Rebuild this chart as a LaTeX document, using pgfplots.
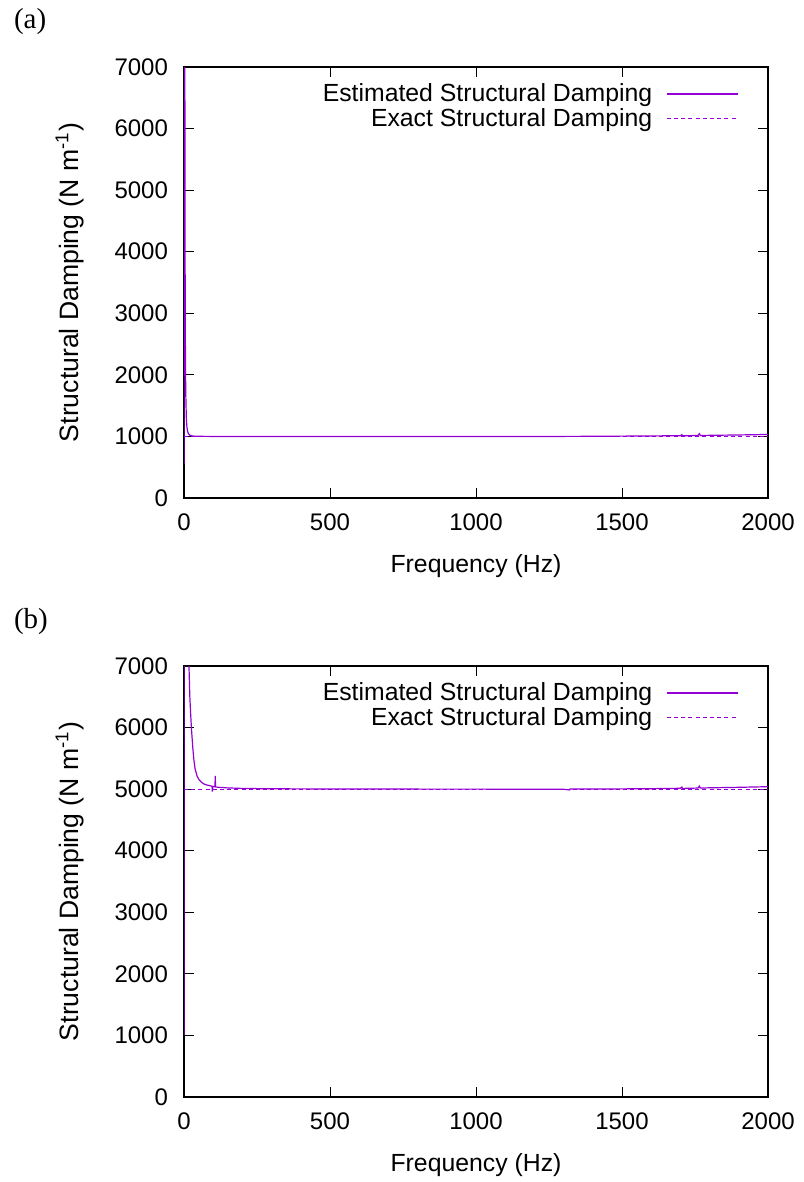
\documentclass[border=0pt]{standalone}
\usepackage{fontspec}
\setmainfont{Liberation Sans}
\newfontfamily\serif{Liberation Serif}
\usepackage{pgfplots}
\pgfplotsset{compat=1.18}
\definecolor{gpviolet}{HTML}{9400D3}

\pgfplotsset{gp/.style={
  scale only axis,
  width=292pt, height=215.5pt,
  xmin=0, xmax=2000, ymin=0, ymax=7000,
  xtick={0,500,...,2000},
  ytick={0,1000,...,7000},
  tick align=inside,
  xtick pos=both, ytick pos=both,
  xticklabel pos=lower, yticklabel pos=left,
  major tick length=5pt,
  axis line style={line width=1.1pt},
  every tick/.style={black, line width=0.5pt},
  tick label style={font=\fontsize{12}{14}\selectfont},
  yticklabel style={xshift=-4.5pt},
  xticklabel style={yshift=-4.5pt},
  /pgf/number format/assume math mode=true,
  /pgf/number format/1000 sep={},
  scaled ticks=false,
  xlabel={Frequency (Hz)},
  ylabel={Structural Damping (N m\textsuperscript{-1})},
  xlabel style={at={(axis description cs:0.5,-0.172)}, anchor=base,
    font=\fontsize{12.4}{14}\selectfont},
  ylabel style={at={(axis description cs:-0.18,0.5)}, anchor=base,
    font=\fontsize{13.3}{15}\selectfont},
  legend style={draw=none, fill=none, inner sep=0pt,
    at={(axis description cs:0.95,0.9675)}, anchor=north east,
    font=\fontsize{12.4}{14}\selectfont,
    nodes={inner sep=1pt}, column sep=6pt, row sep=0pt},
  legend cell align=right,
  legend plot pos=right,
  legend image code/.code={\draw[#1] (0pt,0pt) -- (35.5pt,0pt);},
  est/.style={gpviolet, line width=0.6pt},
  exact/.style={gpviolet, line width=0.5pt, dash pattern=on 2pt off 1.6pt},
}}

\begin{document}
\begin{tikzpicture}
\path[use as bounding box] (0pt,0pt) rectangle (401.5pt,-591pt);

\node[anchor=west, font=\serif\fontsize{14.5}{16}\selectfont] at (3.5pt,-10.8pt) {(a)};
\node[anchor=west, font=\serif\fontsize{14.5}{16}\selectfont] at (3.5pt,-310.8pt) {(b)};

% (a)
\begin{axis}[gp, at={(92pt,-249pt)}, anchor=south west]
\addplot[est] coordinates {
  (0,550) (2,20000) (3,6700) (4,3400) (5,2230) (6,1710) (8,1300)
  (10,1150) (12,1090) (15,1045) (20,1020) (30,1006) (50,1002)
  (100,1000) (300,999) (600,999) (900,998) (1200,999) (1400,1002)
  (1600,1008) (1700,1012) (1705,1030) (1707,1010) (1760,1016)
  (1765,1045) (1768,1015) (1800,1018) (1900,1024) (2000,1032)
};
\addlegendentry{Estimated Structural Damping}
\addplot[exact] coordinates {(0,1000) (2000,1000)};
\addlegendentry{Exact Structural Damping}
\end{axis}

% (b)
\begin{axis}[gp, at={(92pt,-548.5pt)}, anchor=south west]
\addplot[est] coordinates {
  (0,1000) (1,60000) (5,30000) (10,13500) (13,9800) (15,8200)
  (17,7000) (20,6500) (23,6200) (26,5950) (30,5680) (34,5470)
  (38,5330) (45,5210) (52,5150) (60,5110) (70,5080) (80,5065)
  (90,5055) (96,5048) (97,4960) (99,5045) (106,5040) (107,5215)
  (108,5035) (120,5030) (150,5020) (200,5012) (300,5006) (500,5003)
  (800,5001) (1100,5000) (1300,4998) (1320,4988) (1322,5002)
  (1400,5001) (1600,5008) (1700,5014) (1705,5035) (1707,5012)
  (1760,5018) (1765,5050) (1768,5018) (1800,5022) (1900,5030)
  (2000,5040)
};
\addlegendentry{Estimated Structural Damping}
\addplot[exact] coordinates {(0,5000) (2000,5000)};
\addlegendentry{Exact Structural Damping}
\end{axis}
\end{tikzpicture}
\end{document}
